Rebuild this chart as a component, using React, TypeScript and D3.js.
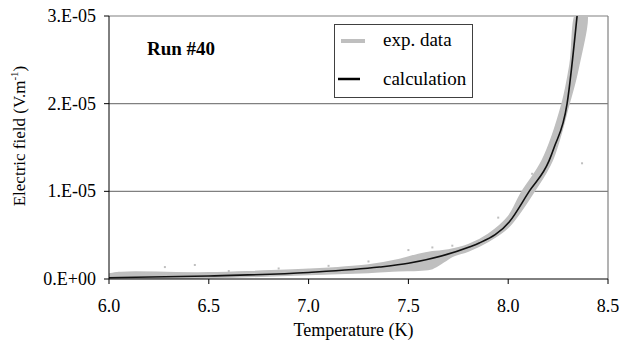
import { useRef, useEffect } from 'react';
import * as d3 from 'd3';

// exp. data band: upper edge (T in K, field x1e-6 V/m)
const expHiT = [5.99, 6.5, 7.0, 7.3, 7.45, 7.55, 7.62, 7.7, 7.8, 7.9, 8.0, 8.065, 8.17, 8.27, 8.31, 8.345];
const expHiE = [0.45, 0.7, 1.1, 1.6, 2.2, 2.8, 3.1, 3.3, 3.9, 5.1, 7.1, 9.8, 13.5, 20.0, 24.5, 30.5];
// exp. data band: lower edge
const expLoT = [5.99, 6.5, 7.0, 7.3, 7.45, 7.55, 7.62, 7.68, 7.72, 7.8, 7.9, 8.0, 8.13, 8.22, 8.305, 8.35, 8.39];
const expLoE = [0.0, 0.15, 0.5, 0.75, 0.95, 1.0, 1.2, 2.0, 2.6, 3.2, 4.3, 5.9, 10.0, 13.5, 20.0, 24.0, 30.5];

// stray exp. points
const strayT = [6.05, 6.28, 6.43, 6.6, 6.85, 7.1, 7.3, 7.5, 7.62, 7.72, 7.95, 8.12, 8.37];
const strayE = [0.7, 1.36, 1.6, 0.9, 1.2, 1.5, 2.0, 3.3, 3.6, 3.8, 7.0, 12.0, 13.2];

// calculation curve
const calcT = [6.0, 6.5, 7.0, 7.355, 7.5, 7.805, 7.855, 8.005, 8.105, 8.205, 8.23, 8.295, 8.345];
const calcE = [0.15, 0.35, 0.75, 1.36, 1.8, 3.64, 4.1, 6.5, 10.0, 13.5, 15.0, 20.0, 30.0];

const xTicks = [6.0, 6.5, 7.0, 7.5, 8.0, 8.5];
const yTicks = [0, 1e-5, 2e-5, 3e-5];
const yTickLabels = ['0.E+00', '1.E-05', '2.E-05', '3.E-05'];

const FONT = 'Liberation Serif, DejaVu Serif, serif';
const GRAY = '#bfbfbf';

type Pt = { t: number; e: number };

export default function App() {
  const svgRef = useRef<SVGSVGElement>(null);

  useEffect(() => {
    if (!svgRef.current) return;
    const svg = d3.select(svgRef.current);
    svg.selectAll('*').remove();

    const margin = { top: 16, right: 13, bottom: 68, left: 109 };
    const W = 621, H = 347;
    const width = W - margin.left - margin.right;
    const height = H - margin.top - margin.bottom;

    const g = svg.append('g').attr('transform', `translate(${margin.left},${margin.top})`);

    const x = d3.scaleLinear().domain([6, 8.5]).range([0, width]);
    const y = d3.scaleLinear().domain([0, 3e-5]).range([height, 0]);

    g.append('defs').append('clipPath').attr('id', 'plotclip')
      .append('rect').attr('width', width).attr('height', height);

    // grid lines
    g.selectAll('.grid').data(yTicks.slice(1)).enter().append('line')
      .attr('x1', 0).attr('x2', width)
      .attr('y1', d => y(d)).attr('y2', d => y(d))
      .attr('stroke', '#808080').attr('stroke-width', 1.2);

    // right border
    g.append('line').attr('x1', width).attr('x2', width).attr('y1', 0).attr('y2', height)
      .attr('stroke', '#808080').attr('stroke-width', 1.2);

    const plot = g.append('g').attr('clip-path', 'url(#plotclip)');

    // exp. data band (upper edge forward, lower edge back)
    const band: Pt[] = [
      ...expHiT.map((t, i) => ({ t, e: expHiE[i] * 1e-6 })),
      ...expLoT.map((t, i) => ({ t, e: expLoE[i] * 1e-6 })).reverse(),
    ];
    const bandPath = d3.line<Pt>()
      .x(d => x(d.t)).y(d => y(d.e)).curve(d3.curveCatmullRomClosed.alpha(0.5));
    plot.append('path').datum(band)
      .attr('fill', GRAY).attr('stroke', GRAY).attr('stroke-width', 1.5)
      .attr('stroke-linejoin', 'round').attr('d', bandPath);

    plot.selectAll('.stray').data(strayT).enter().append('rect')
      .attr('x', d => x(d) - 1).attr('y', (d, i) => y(strayE[i] * 1e-6) - 1)
      .attr('width', 2).attr('height', 2).attr('fill', GRAY);

    // calculation line
    const calc: Pt[] = calcT.map((t, i) => ({ t, e: calcE[i] * 1e-6 }));
    const line = d3.line<Pt>()
      .x(d => x(d.t)).y(d => y(d.e)).curve(d3.curveMonotoneX);
    plot.append('path').datum(calc)
      .attr('fill', 'none').attr('stroke', '#111').attr('stroke-width', 1.6).attr('d', line);

    // axes
    g.append('line').attr('x1', 0).attr('x2', 0).attr('y1', 0).attr('y2', height)
      .attr('stroke', '#000').attr('stroke-width', 1);
    g.append('line').attr('x1', 0).attr('x2', width).attr('y1', height).attr('y2', height)
      .attr('stroke', '#000').attr('stroke-width', 1);

    g.selectAll('.ytick').data(yTicks).enter().append('line')
      .attr('x1', -5).attr('x2', 0).attr('y1', d => y(d)).attr('y2', d => y(d))
      .attr('stroke', '#000');
    g.selectAll('.ylab').data(yTicks).enter().append('text')
      .attr('x', -13).attr('y', d => y(d) + 6)
      .attr('text-anchor', 'end').attr('font-family', FONT).attr('font-size', 18)
      .text((d, i) => yTickLabels[i]);

    g.selectAll('.xtick').data(xTicks).enter().append('line')
      .attr('x1', d => x(d)).attr('x2', d => x(d)).attr('y1', height).attr('y2', height + 5)
      .attr('stroke', '#000');
    g.selectAll('.xlab').data(xTicks).enter().append('text')
      .attr('x', d => x(d)).attr('y', height + 33)
      .attr('text-anchor', 'middle').attr('font-family', FONT).attr('font-size', 18)
      .text(d => d.toFixed(1));

    // axis titles
    svg.append('text')
      .attr('x', margin.left + width / 2 - 5).attr('y', 336)
      .attr('text-anchor', 'middle').attr('font-family', FONT).attr('font-size', 18)
      .text('Temperature (K)');

    const yt = svg.append('text')
      .attr('transform', 'translate(25,136) rotate(-90)')
      .attr('text-anchor', 'middle').attr('font-family', FONT).attr('font-size', 17);
    yt.append('tspan').text('Electric field (V.m');
    yt.append('tspan').attr('font-size', 11).attr('dy', -7).text('-1');
    yt.append('tspan').attr('dy', 7).text(')');

    // run label
    svg.append('text').attr('x', 147).attr('y', 55)
      .attr('font-family', FONT).attr('font-size', 19).attr('font-weight', 'bold')
      .text('Run #40');

    // legend
    const lg = svg.append('g');
    lg.append('rect').attr('x', 334.5).attr('y', 24.5).attr('width', 138).attr('height', 73)
      .attr('fill', '#fff').attr('stroke', '#404040').attr('stroke-width', 1);
    lg.append('line').attr('x1', 341).attr('x2', 365).attr('y1', 41).attr('y2', 41)
      .attr('stroke', GRAY).attr('stroke-width', 4);
    lg.append('text').attr('x', 383).attr('y', 46)
      .attr('font-family', FONT).attr('font-size', 19).text('exp. data');
    lg.append('line').attr('x1', 338).attr('x2', 360).attr('y1', 79).attr('y2', 79)
      .attr('stroke', '#000').attr('stroke-width', 2.5);
    lg.append('text').attr('x', 383).attr('y', 85)
      .attr('font-family', FONT).attr('font-size', 19).text('calculation');
  }, []);

  return (
    <svg ref={svgRef} width={621} height={347}
      style={{ position: 'absolute', left: 0, top: 0, background: '#fff' }} />
  );
}
